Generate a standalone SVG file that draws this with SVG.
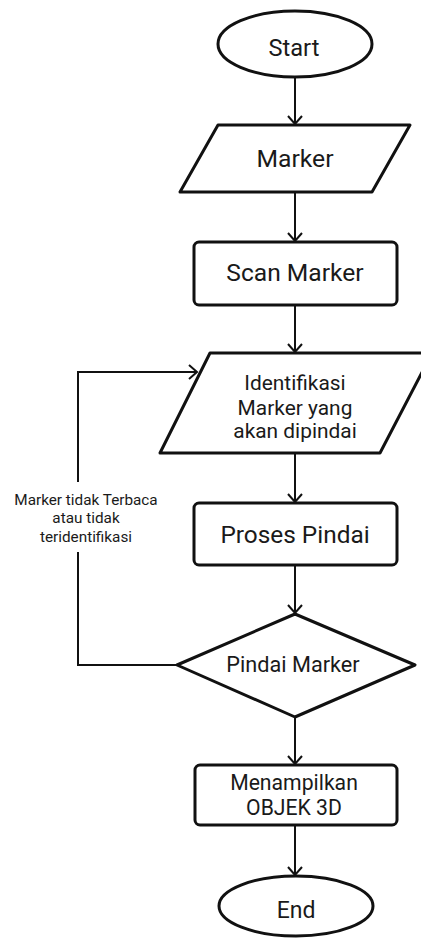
<svg xmlns="http://www.w3.org/2000/svg" width="421" height="940" viewBox="0 0 421 940">
  <defs>
    <marker id="chev" markerUnits="userSpaceOnUse" markerWidth="20" markerHeight="20" refX="10" refY="10" orient="auto" viewBox="0 0 20 20">
      <path d="M2,3 L10,10 L2,17" fill="none" stroke="#111" stroke-width="2"/>
    </marker>
  </defs>
  <style>
    .shape { fill: #fff; stroke: #111; stroke-width: 3; stroke-linejoin: round; }
    .edge { fill: none; stroke: #111; stroke-width: 2; marker-end: url(#chev); }
    .line { fill: none; stroke: #111; stroke-width: 2; }
    text { font-family: Roboto, "Liberation Sans", sans-serif; fill: #1a1a1a; text-anchor: middle; }
    .lbl { font-size: 15.3px; }
  </style>
  <rect width="421" height="940" fill="#fff"/>

  <g id="connectors">
    <line class="edge" x1="295" y1="77" x2="295" y2="124"/>
    <line class="edge" x1="295" y1="192" x2="295" y2="241"/>
    <line class="edge" x1="295" y1="305" x2="295" y2="352"/>
    <line class="edge" x1="295" y1="453" x2="295" y2="502"/>
    <line class="edge" x1="295" y1="565" x2="295" y2="613"/>
    <line class="edge" x1="295" y1="717" x2="295" y2="764"/>
    <line class="edge" x1="295" y1="825" x2="295" y2="875"/>
    <polyline class="line" points="177,665 78,665 78,552"/>
    <polyline class="edge" points="78,482 78,372 197,372"/>
    <text class="lbl" x="86" y="505">Marker tidak Terbaca</text>
    <text class="lbl" x="86" y="523">atau tidak</text>
    <text class="lbl" x="86" y="542">teridentifikasi</text>
  </g>

  <g id="start">
    <ellipse class="shape" cx="295" cy="44" rx="77" ry="33"/>
    <text x="294" y="56" font-size="23.6">Start</text>
  </g>

  <g id="marker-input">
    <polygon class="shape" points="218,125 410,125 372,192 180,192"/>
    <text x="295" y="167" font-size="24.7">Marker</text>
  </g>

  <g id="scan-marker">
    <rect class="shape" x="194" y="242" width="203" height="63" rx="5"/>
    <text x="295" y="281" font-size="24.6">Scan Marker</text>
  </g>

  <g id="identifikasi">
    <polygon class="shape" points="210,353 432,353 380,453 160,453"/>
    <text x="295" y="390" font-size="20.9">Identifikasi</text>
    <text x="295" y="415" font-size="20.9">Marker yang</text>
    <text x="295" y="438" font-size="20.9">akan dipindai</text>
  </g>

  <g id="proses-pindai">
    <rect class="shape" x="194" y="503" width="203" height="62" rx="5"/>
    <text x="295" y="543" font-size="24.4">Proses Pindai</text>
  </g>

  <g id="pindai-marker">
    <polygon class="shape" points="295,614 415,665 295,717 177,665"/>
    <text x="293" y="672" font-size="21.7">Pindai Marker</text>
  </g>

  <g id="menampilkan">
    <rect class="shape" x="195" y="765" width="202" height="60" rx="5"/>
    <text x="294" y="790" font-size="21.2">Menampilkan</text>
    <text x="294" y="815" font-size="21.2">OBJEK 3D</text>
  </g>

  <g id="end">
    <ellipse class="shape" cx="296" cy="906" rx="77" ry="30"/>
    <text x="296" y="918" font-size="23">End</text>
  </g>
</svg>
